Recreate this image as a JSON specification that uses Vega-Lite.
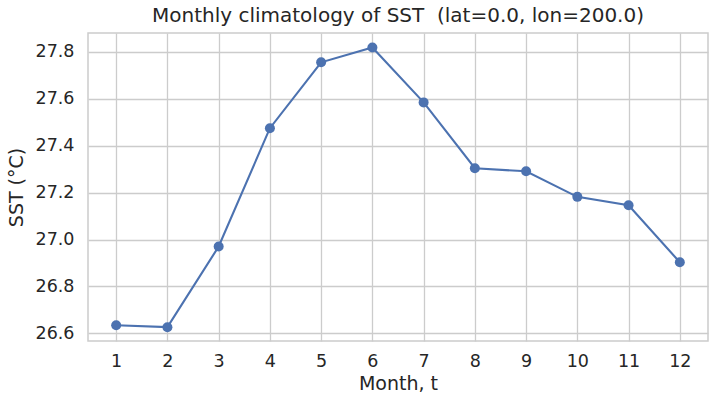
{
  "$schema": "https://vega.github.io/schema/vega-lite/v6.json",
  "autosize": {"type": "none"},
  "padding": {"left": 88, "top": 33, "right": 9, "bottom": 68},
  "width": 620,
  "height": 308,
  "background": "white",
  "title": {
    "text": "Monthly climatology of SST \u00a0(lat=0.0, lon=200.0)",
    "font": "DejaVu Sans",
    "fontSize": 20,
    "fontWeight": "normal",
    "color": "#262626",
    "offset": 7,
    "anchor": "middle"
  },
  "data": {
    "values": [
      {"month": 1, "sst": 26.634},
      {"month": 2, "sst": 26.626},
      {"month": 3, "sst": 26.970},
      {"month": 4, "sst": 27.475},
      {"month": 5, "sst": 27.756},
      {"month": 6, "sst": 27.819},
      {"month": 7, "sst": 27.585},
      {"month": 8, "sst": 27.304},
      {"month": 9, "sst": 27.291},
      {"month": 10, "sst": 27.182},
      {"month": 11, "sst": 27.146},
      {"month": 12, "sst": 26.903}
    ]
  },
  "encoding": {
    "x": {
      "field": "month",
      "type": "quantitative",
      "scale": {"domain": [0.45, 12.55], "nice": false, "zero": false},
      "axis": {
        "title": "Month, t",
        "values": [1,2,3,4,5,6,7,8,9,10,11,12],
        "format": "d"
      }
    },
    "y": {
      "field": "sst",
      "type": "quantitative",
      "scale": {"domain": [26.567, 27.881], "nice": false, "zero": false},
      "axis": {
        "title": "SST (°C)",
        "values": [26.6, 26.8, 27.0, 27.2, 27.4, 27.6, 27.8],
        "format": ".1f"
      }
    }
  },
  "layer": [
    {"mark": {"type": "line", "color": "#4c72b0", "strokeWidth": 2.1}},
    {"mark": {"type": "point", "filled": true, "color": "#4c72b0", "size": 100, "opacity": 1}}
  ],
  "config": {
    "view": {"stroke": "#cccccc", "strokeWidth": 1.5},
    "axis": {
      "domain": false,
      "ticks": false,
      "grid": true,
      "gridColor": "#cccccc",
      "gridWidth": 1.3,
      "labelFont": "DejaVu Sans",
      "labelFontSize": 17.5,
      "labelColor": "#262626",
      "titleFont": "DejaVu Sans",
      "titleFontSize": 19,
      "titleFontWeight": "normal",
      "titleColor": "#262626"
    },
    "axisX": {"labelPadding": 11, "titlePadding": 5},
    "axisY": {"labelPadding": 14, "titlePadding": 9}
  }
}
